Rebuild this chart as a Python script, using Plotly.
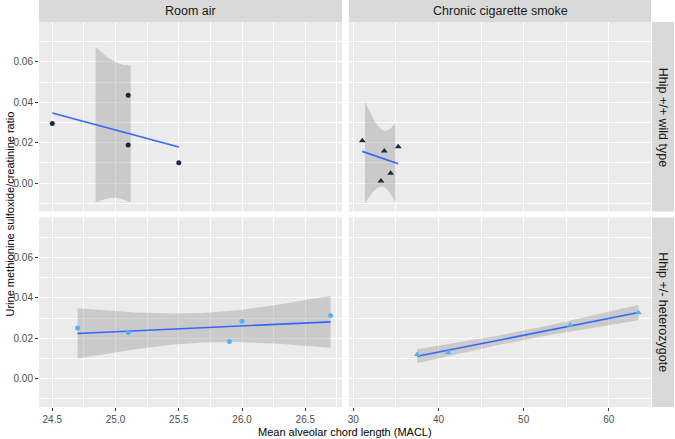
import numpy as np
import plotly.graph_objects as go
from plotly.subplots import make_subplots

# values
room_wt_macl = [24.5, 25.1, 25.1, 25.5]
room_wt_ratio = [0.0295, 0.0435, 0.0188, 0.0100]
smoke_wt_macl = [31.06, 33.64, 35.28, 34.39, 33.25]
smoke_wt_ratio = [0.0210, 0.0159, 0.0180, 0.0048, 0.0010]
room_het_macl = [24.7, 25.1, 25.9, 26.0, 26.7]
room_het_ratio = [0.0251, 0.0228, 0.0183, 0.0284, 0.0312]
smoke_het_macl = [37.51, 41.14, 55.45, 63.48]
smoke_het_ratio = [0.0119, 0.0129, 0.0264, 0.0326]

exposures = ["Room air", "Chronic cigarette smoke"]
genotypes = ["Hhip +/+ wild type", "Hhip +/- heterozygote"]
y_limits = [-0.01, 0.075]
t975 = {2: 4.3027, 3: 3.1824}

W, H = 675, 439
FONT = "Liberation Sans, Arial, sans-serif"


def lm_smooth(x, y, n=80):
    # linear fit with 95% band, band dropped outside the y scale limits (as ggplot does)
    x = np.asarray(x)
    y = np.asarray(y)
    slope, intercept = np.polyfit(x, y, 1)
    grid = np.linspace(x.min(), x.max(), n)
    fit = intercept + slope * grid
    resid = y - (intercept + slope * x)
    df = len(x) - 2
    s = np.sqrt(np.sum(resid ** 2) / df)
    sxx = np.sum((x - x.mean()) ** 2)
    se = s * np.sqrt(1 / len(x) + (grid - x.mean()) ** 2 / sxx)
    lo = fit - t975[df] * se
    hi = fit + t975[df] * se
    keep = (lo >= y_limits[0]) & (hi <= y_limits[1])
    return grid, fit, grid[keep], lo[keep], hi[keep]


panels = [
    (1, 1, room_wt_macl, room_wt_ratio, "#132B43", "circle", 5),
    (1, 2, smoke_wt_macl, smoke_wt_ratio, "#132B43", "triangle-up", 6),
    (2, 1, room_het_macl, room_het_ratio, "#56B1F7", "circle", 5),
    (2, 2, smoke_het_macl, smoke_het_ratio, "#56B1F7", "triangle-up", 6),
]

fig = make_subplots(rows=2, cols=2)

for row, col, xs, ys, color, symbol, size in panels:
    grid, fit, bx, lo, hi = lm_smooth(xs, ys)
    fig.add_trace(go.Scatter(
        x=list(bx) + list(bx[::-1]), y=list(hi) + list(lo[::-1]),
        fill="toself", fillcolor="rgba(153,153,153,0.4)",
        line=dict(width=0), mode="lines", hoverinfo="skip",
        showlegend=False), row=row, col=col)
    fig.add_trace(go.Scatter(
        x=grid, y=fit, mode="lines",
        line=dict(color="#3366FF", width=1.6),
        showlegend=False), row=row, col=col)
    fig.add_trace(go.Scatter(
        x=xs, y=ys, mode="markers",
        marker=dict(color=color, symbol=symbol, size=size, line=dict(width=0)),
        showlegend=False), row=row, col=col)


def px_x(p):
    return p / W


def px_y(p):
    return 1 - p / H


col_dom = [[px_x(39), px_x(342)], [px_x(349), px_x(651)]]
row_dom = [[px_y(211.5), px_y(22)], [px_y(407), px_y(217.5)]]
x_ranges = [[24.395, 26.79], [29.5, 64.95]]
x_ticks = [(24.5, 0.5, 0.25), (30, 10, 5)]

for r in (1, 2):
    for c in (1, 2):
        t0, dt, mdt = x_ticks[c - 1]
        fig.update_xaxes(
            row=r, col=c, domain=col_dom[c - 1], range=x_ranges[c - 1],
            tick0=t0, dtick=dt, tickformat=".1f" if c == 1 else "d",
            showticklabels=(r == 2), ticks="outside" if r == 2 else "",
            ticklen=3, tickwidth=1, tickcolor="#333333",
            tickfont=dict(family=FONT, size=10, color="#4D4D4D"),
            showgrid=True, gridcolor="white", gridwidth=1.1,
            minor=dict(tick0=t0, dtick=mdt, showgrid=True, gridcolor="white", gridwidth=0.55),
            zeroline=False, showline=False)
        fig.update_yaxes(
            row=r, col=c, domain=row_dom[r - 1], range=[-0.0141, 0.0798],
            tick0=0, dtick=0.02, tickformat=".2f",
            showticklabels=(c == 1), ticks="outside" if c == 1 else "",
            ticklen=3, tickwidth=1, tickcolor="#333333",
            tickfont=dict(family=FONT, size=10, color="#4D4D4D"),
            showgrid=True, gridcolor="white", gridwidth=1.1,
            minor=dict(tick0=0, dtick=0.01, showgrid=True, gridcolor="white", gridwidth=0.55),
            zeroline=False, showline=False)

shapes = []
annotations = []
for i, name in enumerate(exposures):
    x0, x1 = col_dom[i]
    shapes.append(dict(type="rect", xref="paper", yref="paper", x0=x0, x1=x1,
                       y0=px_y(22), y1=1, fillcolor="#D9D9D9", line=dict(width=0), layer="below"))
    annotations.append(dict(text=name, xref="paper", yref="paper", x=(x0 + x1) / 2, y=px_y(11),
                            showarrow=False, xanchor="center", yanchor="middle",
                            font=dict(family=FONT, size=12.5, color="#1A1A1A")))
for i, name in enumerate(genotypes):
    y0, y1 = row_dom[i]
    shapes.append(dict(type="rect", xref="paper", yref="paper", x0=px_x(652), x1=px_x(674),
                       y0=y0, y1=y1, fillcolor="#D9D9D9", line=dict(width=0), layer="below"))
    annotations.append(dict(text=name, xref="paper", yref="paper", x=px_x(663), y=(y0 + y1) / 2,
                            showarrow=False, textangle=90, xanchor="center", yanchor="middle",
                            font=dict(family=FONT, size=12.5, color="#1A1A1A")))

annotations.append(dict(text="Mean alveolar chord length (MACL)", xref="paper", yref="paper",
                        x=(col_dom[0][0] + col_dom[1][1]) / 2, y=px_y(432),
                        showarrow=False, xanchor="center", yanchor="middle",
                        font=dict(family=FONT, size=11, color="black")))
annotations.append(dict(text="Urine methionine sulfoxide/creatinine ratio", xref="paper", yref="paper",
                        x=px_x(9), y=px_y(214.5), textangle=-90,
                        showarrow=False, xanchor="center", yanchor="middle",
                        font=dict(family=FONT, size=11, color="black")))

fig.update_layout(
    width=W, height=H,
    margin=dict(l=0, r=0, t=0, b=0),
    paper_bgcolor="white", plot_bgcolor="#EBEBEB",
    shapes=shapes, annotations=annotations,
    showlegend=False,
)

# the page's default body margin would push the figure 8px in
fig.write_html("out.html", config={"displayModeBar": False},
               post_script="document.body.style.margin='0';")
